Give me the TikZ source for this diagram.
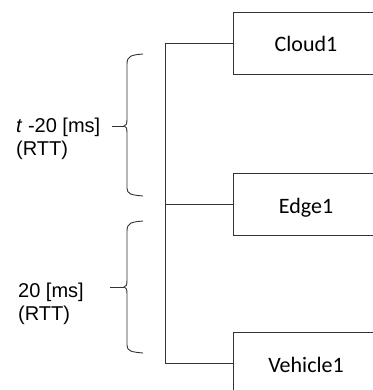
\documentclass[tikz,border=0pt]{standalone}
\usepackage{fontspec}
\setmainfont{Liberation Sans}
\newfontfamily\unitfont{Carlito}
\usetikzlibrary{calc}
\colorlet{linegray}{black!80}

\begin{document}
\begin{tikzpicture}[
        x=1pt, y=-1pt,
        unit/.style={
            draw=linegray,
            rectangle,
            line width=0.9pt,
            minimum width=146pt,
            minimum height=62pt,
            text height=18pt,
            text depth=0pt,
            font=\unitfont\fontsize{22}{25}\selectfont,
        },
        lbl/.style={
            inner sep=0pt,
            font=\fontsize{20}{23}\selectfont,
        },
        link/.style={
            draw=linegray,
            line width=0.9pt,
        },
        bracket/.style={
            draw=linegray,
            line width=0.9pt,
        },
    ]
    \useasboundingbox (0,0) rectangle (372,390);

    \node[unit] (cloud) at (306, 43) {Cloud1};
    \node[unit] (edge) at (306, 204) {Edge1};
    \node[unit] (vehicle) at (306, 363) {Vehicle1};

    % shared trunk on the left of the units
    \coordinate (bus) at (165, 0);
    \draw[link] (cloud.west) -- (cloud.west -| bus) -- (vehicle.west -| bus) -- (vehicle.west);
    \draw[link] (edge.west) -- (edge.west -| bus);

    % round trip times
    \node[lbl, anchor=base west] (delay1) at (16, 133) {\textit{t} -20 [ms]};
    \node[lbl, anchor=base west] (rtt1) at (16, 156) {(RTT)};
    \node[lbl, anchor=base west] (delay2) at (18, 297) {20 [ms]};
    \node[lbl, anchor=base west] (rtt2) at (18, 320) {(RTT)};

    \coordinate (tip1) at (124, 126);
    \coordinate (tip2) at (124, 287);

    \draw[bracket] (143,54) .. controls (131,55) and (127,56) .. (127,64) -- (127,119)
        .. controls (127,124) and (126,126) .. (tip1)
        .. controls (126,126) and (127,128) .. (127,133) -- (127,188)
        .. controls (127,194) and (131,195) .. (143,196);
    \draw[bracket] (143,221) .. controls (131,222) and (127,223) .. (127,231) -- (127,280)
        .. controls (127,285) and (126,287) .. (tip2)
        .. controls (126,287) and (127,289) .. (127,294) -- (127,345)
        .. controls (127,351) and (131,352) .. (143,353);

    \draw[link, shorten <=12pt] (tip1 -| delay1.east) -- (tip1);
    \draw[link, shorten <=26pt] (tip2 -| delay2.east) -- (tip2);
\end{tikzpicture}
\end{document}
